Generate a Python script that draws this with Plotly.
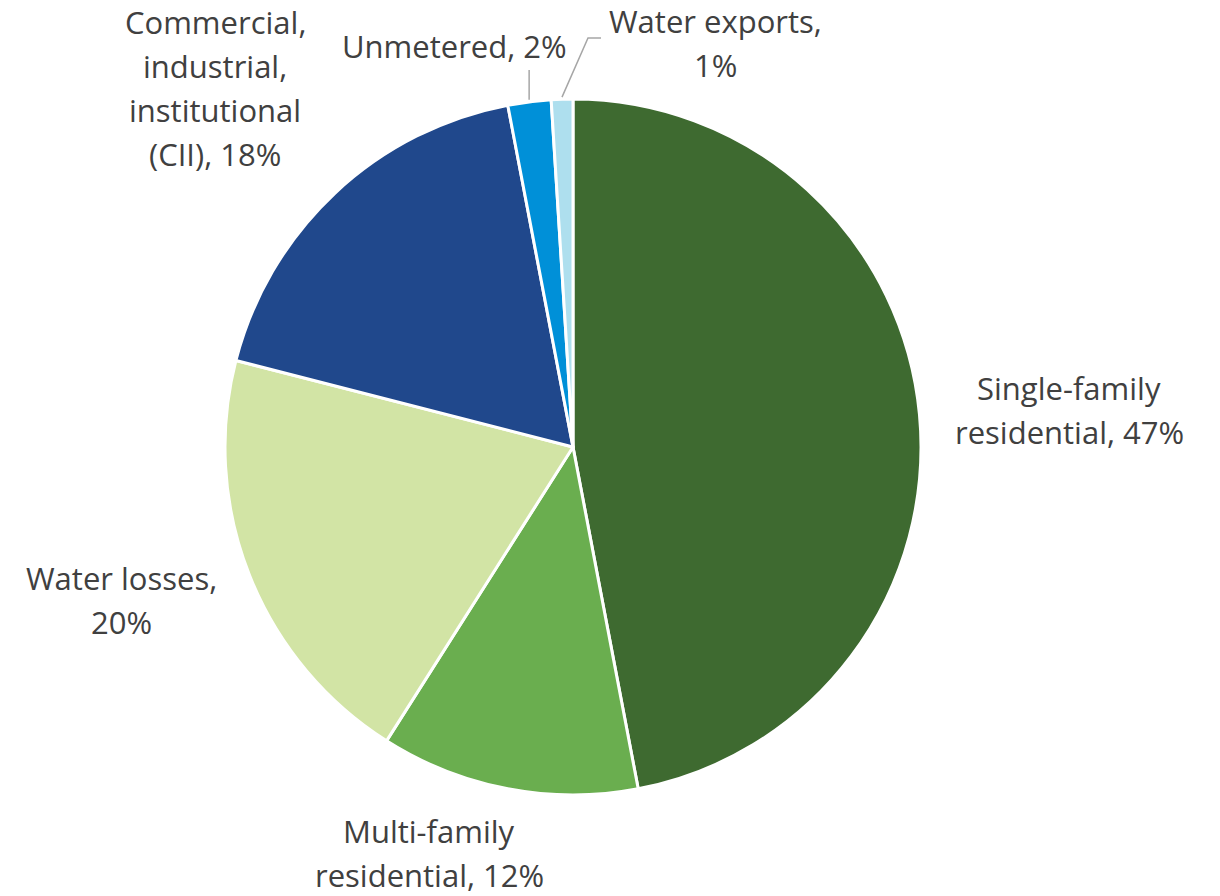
import math
import plotly.graph_objects as go

# Share of total water use by customer category
categories = [
    "Single-family residential",
    "Multi-family residential",
    "Water losses",
    "Commercial, industrial, institutional (CII)",
    "Unmetered",
    "Water exports",
]
shares = [47, 12, 20, 18, 2, 1]
# label lines: category name wrapped, followed by its share
label_lines = [
    ["Single-family", "residential, {}%"],
    ["Multi-family", "residential, {}%"],
    ["Water losses,", "{}%"],
    ["Commercial,", "industrial,", "institutional", "(CII), {}%"],
    ["Unmetered, {}%"],
    ["Water exports,", "{}%"],
]
colors = ["#3E6A30", "#6AAE4F", "#D2E4A5", "#20488C", "#0090D8", "#AEDFEE"]

W, H = 1220, 896
CX, CY, R = 573, 447, 348  # pie centre and radius in pixels
LINE_GAP = 44              # pixel spacing between label lines

def px(x):
    return x / W

def py(y):
    return 1 - y / H

fig = go.Figure(
    go.Pie(
        labels=categories,
        values=shares,
        sort=False,
        direction="clockwise",
        rotation=0,
        marker=dict(colors=colors, line=dict(color="white", width=3)),
        textinfo="none",
        hoverinfo="label+percent",
        domain=dict(x=[px(CX - R), px(CX + R)], y=[py(CY + R), py(CY - R)]),
        showlegend=False,
    )
)

# label block centres in pixels
label_pos = [
    (1069, 410),
    (429, 853),
    (121, 600),
    (215, 88),
    (454, 46),
    (715, 43),
]

font = dict(family="'Open Sans', sans-serif", size=31, color="#404040")
annotations = []
for lines, share, (x, y) in zip(label_lines, shares, label_pos):
    n = len(lines)
    for i, line in enumerate(lines):
        ly = y + (i - (n - 1) / 2) * LINE_GAP
        annotations.append(
            dict(
                x=px(x), y=py(ly), xref="paper", yref="paper",
                text=line.format(share), showarrow=False, font=font,
                xanchor="center", yanchor="middle", align="center",
            )
        )

# leader lines for the two thin slices, starting at the slice mid-angle on the rim
total = sum(shares)
cum = 0
mid_angles = []
for v in shares:
    mid_angles.append((cum + v / 2) / total * 2 * math.pi)
    cum += v

def rim_point(angle, r):
    return CX + r * math.sin(angle), CY - r * math.cos(angle)

shapes = []
# Unmetered: short vertical line
ux, uy = rim_point(mid_angles[4], R + 2)
shapes.append(dict(type="line", xref="paper", yref="paper",
                   x0=px(ux), y0=py(uy), x1=px(ux), y1=py(70),
                   line=dict(color="#A6A6A6", width=1.5)))
# Water exports: diagonal then horizontal
ex, ey = rim_point(mid_angles[5], R + 2)
shapes.append(dict(type="path", xref="paper", yref="paper",
                   path=f"M {px(ex)},{py(ey)} L {px(588)},{py(38)} L {px(601)},{py(38)}",
                   line=dict(color="#A6A6A6", width=1.5)))

fig.update_layout(
    width=W, height=H,
    margin=dict(l=0, r=0, t=0, b=0),
    paper_bgcolor="white",
    plot_bgcolor="white",
    annotations=annotations,
    shapes=shapes,
)

fig.write_html("out.html")
